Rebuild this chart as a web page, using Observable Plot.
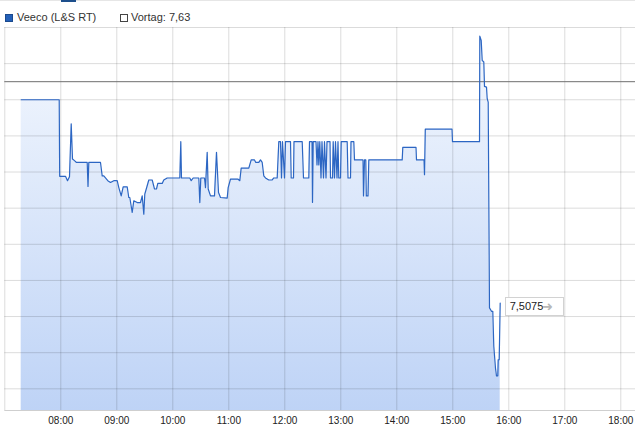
<!DOCTYPE html>
<html><head><meta charset="utf-8">
<script src="https://cdn.jsdelivr.net/npm/d3@7"></script>
<script src="https://cdn.jsdelivr.net/npm/@observablehq/plot@0.6"></script>
<style>
body{margin:0;background:#fff;font-family:"Liberation Sans",Arial,sans-serif;}
#wrap{position:relative;width:635px;height:433px;overflow:hidden;background:#fff;}
#legend{position:relative;height:26px;font-size:11px;color:#333;border-top:1px solid #e6e6e6;box-sizing:border-box;}
#tab{position:absolute;left:61px;top:-1px;width:15px;height:2px;background:#1d4f8c;}
.sq{position:absolute;top:13px;width:6px;height:6px;border:1px solid;}
.lt{position:absolute;top:9.5px;line-height:13px;white-space:nowrap;}
#chart svg{display:block;}
</style></head><body>
<div id="wrap"><div id="legend"><div id="tab"></div></div><div id="chart"></div></div>
<script>
const seriesName = "Veeco (L&S RT)";
const previousCloseLabel = "Vortag: 7,63";
const previousClose = 7.63;
const lastLabel = "7,5075";

const times = [
 "07:17:34","07:58:17","07:58:49","08:05:02","08:07:11","08:09:19","08:11:09","08:12:32","08:14:41","08:16:49",
 "08:28:17","08:29:09","08:30:00","08:42:32","08:44:21","08:46:04","08:50:21","08:53:15","08:56:47","09:00:26",
 "09:02:09","09:04:43","09:06:51","09:11:09","09:12:51","09:13:56","09:16:30","09:18:13","09:21:51","09:25:24",
 "09:27:13","09:28:56","09:30:00","09:32:34","09:34:17","09:37:56","09:40:24","09:42:32","09:43:56","09:48:39",
 "09:50:21","09:54:00","10:07:30","10:08:34","10:09:19","10:18:13","10:19:43","10:21:51","10:27:51","10:28:56",
 "10:30:00","10:33:58","10:35:02","10:36:51","10:37:56","10:40:24","10:44:41","10:46:49","10:48:58","10:51:07",
 "10:58:17","10:59:21","11:01:49","11:09:38","11:11:47","11:13:17","11:21:26","11:24:00","11:27:32","11:28:56",
 "11:32:09","11:33:58","11:35:47","11:37:30","11:39:19","11:42:51","11:46:30","11:48:13","11:51:51","11:53:34",
 "11:55:23","11:56:28","11:57:32","11:59:41","12:00:45","12:06:07","12:06:51","12:09:19","12:09:51","12:18:39",
 "12:20:02","12:25:43","12:26:28","12:29:09","12:29:41","12:30:26","12:33:26","12:34:30","12:35:34","12:36:26",
 "12:37:30","12:38:47","12:39:51","12:41:28","12:42:32","12:44:09","12:45:13","12:48:26","12:48:58","12:51:07",
 "12:51:51","12:53:15","12:54:19","12:55:56","12:57:00","12:57:51","12:59:41","13:00:26","13:06:51","13:07:43",
 "13:10:24","13:10:56","13:13:56","13:14:41","13:23:47","13:24:19","13:25:23","13:26:47","13:27:19","13:29:09",
 "13:30:00","14:05:47","14:06:26","14:20:34","14:21:07","14:29:09","14:29:41","14:30:32","14:59:09","14:59:41",
 "15:28:37","15:28:56","15:30:26","15:31:30","15:33:13","15:33:58","15:36:07","15:36:51","15:37:56","15:39:19",
 "15:41:28","15:42:51","15:43:56","15:45:45","15:46:49","15:48:13","15:48:39","15:49:43","15:50:47"
];
const prices = [
 7.6200,7.6200,7.5776,7.5776,7.5752,7.5774,7.6067,7.5872,7.5863,7.5853,
 7.5853,7.5720,7.5853,7.5853,7.5779,7.5779,7.5752,7.5742,7.5752,7.5752,
 7.5714,7.5668,7.5718,7.5718,7.5659,7.5659,7.5576,7.5641,7.5631,7.5631,
 7.5668,7.5567,7.5678,7.5724,7.5756,7.5756,7.5706,7.5706,7.5737,7.5737,
 7.5756,7.5767,7.5767,7.5968,7.5767,7.5767,7.5752,7.5767,7.5767,7.5631,
 7.5767,7.5767,7.5714,7.5909,7.5706,7.5668,7.5668,7.5909,7.5687,7.5659,
 7.5656,7.5714,7.5761,7.5761,7.5752,7.5822,7.5822,7.5867,7.5867,7.5853,
 7.5853,7.5867,7.5853,7.5779,7.5767,7.5756,7.5756,7.5767,7.5767,7.5968,
 7.5968,7.5767,7.5968,7.5767,7.5968,7.5968,7.5767,7.5767,7.5968,7.5968,
 7.5767,7.5767,7.5968,7.5968,7.5632,7.5968,7.5968,7.5839,7.5968,7.5839,
 7.5968,7.5767,7.5968,7.5767,7.5968,7.5767,7.5968,7.5968,7.5767,7.5767,
 7.5968,7.5767,7.5968,7.5767,7.5968,7.5767,7.5767,7.5968,7.5968,7.5767,
 7.5767,7.5968,7.5968,7.5867,7.5867,7.5668,7.5867,7.5867,7.5668,7.5668,
 7.5867,7.5867,7.5937,7.5937,7.5867,7.5867,7.5785,7.6037,7.6037,7.5968,
 7.5968,7.6552,7.6529,7.6418,7.6409,7.6274,7.6270,7.6206,7.6187,7.5048,
 7.5029,7.5029,7.4835,7.4714,7.4672,7.4672,7.4761,7.4761,7.5075
];
const yTicks = [7.46,7.48,7.50,7.52,7.54,7.56,7.58,7.60,7.62,7.64,7.66];
const yMin = 7.448;
const xTickLabels = ["07:00","08:00","09:00","10:00","11:00","12:00","13:00","14:00","15:00","16:00","17:00","18:00"];
const xStart = "07:00:00", xEnd = "18:15:45";

const day = s => { const [h,m,sec=0] = s.split(":").map(Number); return new Date(2024,0,15,h,m,sec); };
const data = times.map((t,i) => ({t: day(t), p: prices[i]}));
const xTicks = xTickLabels.map(day);
const last = data[data.length-1];

// legend
const legend = d3.select("#legend");
legend.append("span").attr("class","sq").style("left","5px").style("background","#2360b8").style("border-color","#1b4a8e");
legend.append("span").attr("class","lt").style("left","17px").text(seriesName);
legend.append("span").attr("class","sq").style("left","120px").style("background","#fff").style("border-color","#444");
legend.append("span").attr("class","lt").style("left","131px").text(previousCloseLabel);

const plot = Plot.plot({
  width: 635, height: 407,
  marginTop: 1, marginBottom: 23, marginLeft: 4.3, marginRight: 0,
  x: {type: "time", domain: [day(xStart), day(xEnd)]},
  y: {domain: [yMin, yTicks[yTicks.length-1]], axis: null},
  style: {fontFamily: "'Liberation Sans', Arial, sans-serif", fontSize: "10px", color: "#222", background: "transparent"},
  marks: [
    Plot.areaY(data, {x: "t", y1: yMin, y2: "p", fill: "url(#areaGrad)"}),
    Plot.gridY(yTicks, {stroke: "#000", strokeOpacity: 0.14}),
    Plot.gridX(xTicks, {stroke: "#000", strokeOpacity: 0.14}),
    Plot.ruleY([yMin], {stroke: "#cfcfcf"}),
    Plot.ruleY([previousClose], {stroke: "#6e6e6e"}),
    Plot.lineY(data, {x: "t", y: "p", stroke: "#2c66c3", strokeWidth: 1.2}),
    Plot.axisX(xTicks.slice(1), {tickSize: 0, tickPadding: 6, tickFormat: d3.timeFormat("%H:%M"), label: null, fontSize: 10}),
    Plot.text([last], {x: "t", y: "p", text: () => lastLabel, dx: 9.5, dy: 3.5, textAnchor: "start", fontSize: 11, fill: "#222"})
  ]
});
document.getElementById("chart").appendChild(plot);

const svg = d3.select(plot);
svg.insert("defs", ":first-child").html(
  '<linearGradient id="areaGrad" x1="0" y1="0" x2="0" y2="1">' +
  '<stop offset="0" stop-color="#f4f8fe"/><stop offset="1" stop-color="#bed3f6"/></linearGradient>');

// value label box
const tg = svg.select('g[aria-label="text"]');
const tnode = tg.select("text").node();
const r = tnode.getBoundingClientRect(), s = plot.getBoundingClientRect();
const cy = (r.top + r.bottom)/2 - s.top;
const bx = r.left - s.left - 5, bw = r.width + 5 + 19;
svg.insert("rect", 'g[aria-label="text"]')
  .attr("x", Math.round(bx) + 0.5).attr("y", Math.round(cy - 9) + 0.5)
  .attr("width", Math.round(bw)).attr("height", 18)
  .attr("fill", "#fff").attr("stroke", "#d2d2d2");
svg.append("text")
  .attr("x", r.right - s.left + 4).attr("y", cy)
  .attr("dy", "0.36em")
  .attr("font-size", 13).attr("font-weight", "bold").attr("fill", "#b8b8b8")
  .attr("font-family", "'DejaVu Sans', sans-serif")
  .text("➜");
</script>
</body></html>
